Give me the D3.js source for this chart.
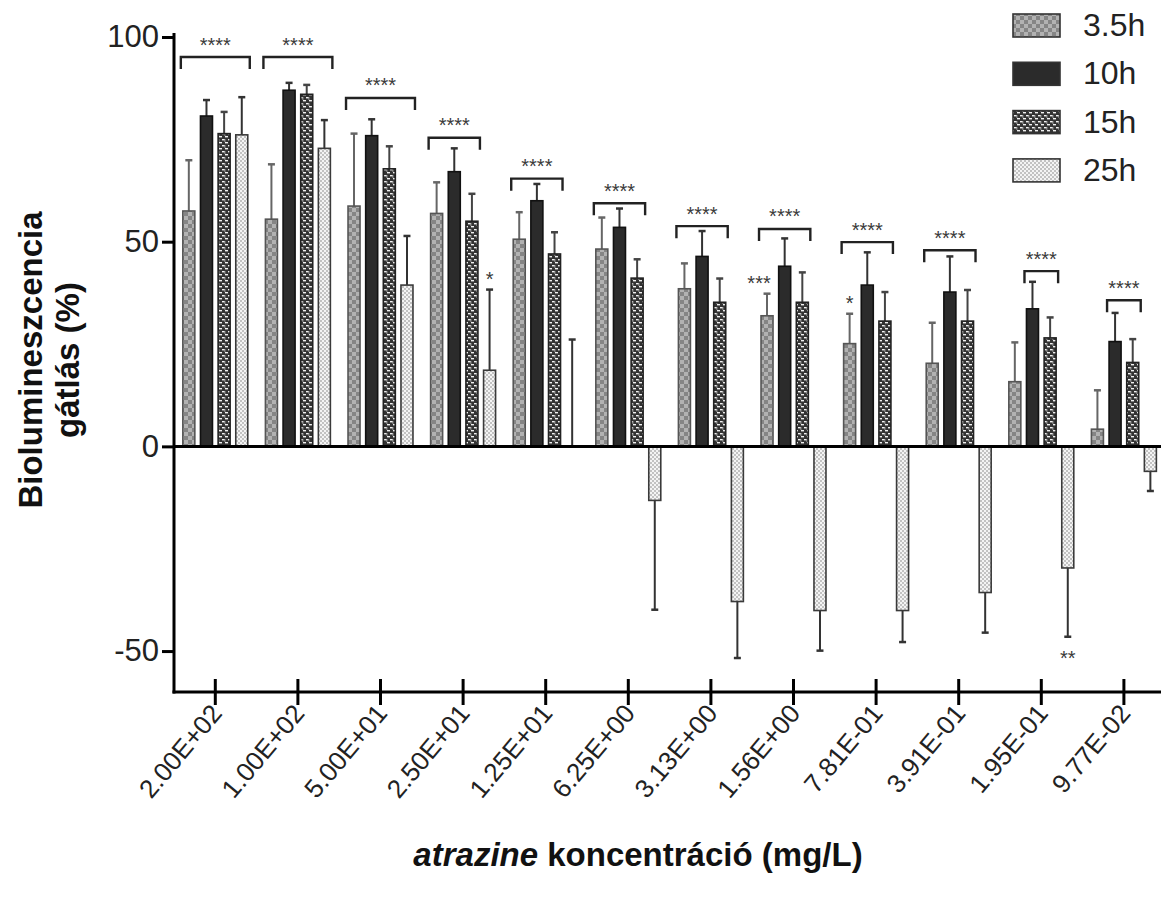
<!DOCTYPE html>
<html><head><meta charset="utf-8">
<script src="https://cdn.jsdelivr.net/npm/d3@7"></script>
<style>
body{margin:0;background:#fff}
svg{display:block}
text{font-family:"Liberation Sans",Arial,Helvetica,sans-serif}
</style>
</head><body>
<svg id="chart" width="1161" height="900"></svg>
<script>
// ---- data ----
const categories = ["2.00E+02","1.00E+02","5.00E+01","2.50E+01","1.25E+01","6.25E+00","3.13E+00","1.56E+00","7.81E-01","3.91E-01","1.95E-01","9.77E-02"];
const seriesNames = ["3.5h","10h","15h","25h"];
const values35 = [57.5, 55.5, 58.7, 56.9, 50.6, 48.2, 38.5, 31.9, 25.1, 20.3, 15.8, 4.2];
const err35    = [12.4, 13.4, 17.7, 7.6, 6.6, 7.7, 6.2, 5.4, 7.3, 9.9, 9.6, 9.5];
const values10 = [80.7, 87.0, 75.9, 67.1, 60.0, 53.5, 46.4, 44.0, 39.4, 37.7, 33.6, 25.6];
const err10    = [3.9, 1.8, 4.0, 5.7, 4.1, 4.6, 6.2, 6.8, 8.0, 8.7, 6.6, 7.0];
const values15 = [76.4, 86.0, 67.8, 55.0, 47.0, 41.1, 35.2, 35.2, 30.6, 30.6, 26.5, 20.5];
const err15    = [5.3, 2.3, 5.5, 6.7, 5.3, 4.6, 5.8, 7.3, 7.1, 7.6, 5.0, 5.7];
const values25 = [76.1, 72.8, 39.4, 18.6, 0.0, -13.2, -37.9, -40.1, -40.1, -35.7, -29.7, -6.1];
const err25    = [9.2, 6.9, 12.0, 19.7, 26.1, 26.7, 13.8, 9.8, 7.7, 9.8, 16.8, 4.8];
// significance brackets per concentration
const sigFrom  = [0,0,0,0,0,0,0,0,0,0,1,1];
const sigTo    = [3,3,3,2,2,2,2,2,2,2,2,2];
const sigLevel = [95.1, 95.1, 85.1, 75.4, 65.4, 59.4, 53.8, 53.1, 49.9, 47.9, 42.8, 35.7];
const sigText  = ["****","****","****","****","****","****","****","****","****","****","****","****"];
// single-bar annotations
const annCategory = ["2.50E+01","1.56E+00","7.81E-01","1.95E-01"];
const annSeries   = ["25h","3.5h","3.5h","25h"];
const annText     = ["*","***","*","**"];
const annShift    = [0, -8, 0, 0];
const yTicks = [-50, 0, 50, 100];
const yLabelLines = ["Biolumineszcencia", "gátlás (%)"];

// ---- scales ----
const svg = d3.select("#chart");
const W = 1161, H = 900;
const x0 = d3.scaleBand().domain(categories).range([174, 174 + 12 * 82.6]);
const x1 = d3.scaleBand().domain(seriesNames).range([0, x0.bandwidth()]).paddingInner(0.32).paddingOuter(0.5);
const y = d3.scaleLinear().domain([-60, 100]).range([692, 37]);

const seriesVals = {"3.5h": values35, "10h": values10, "15h": values15, "25h": values25};
const seriesErr  = {"3.5h": err35, "10h": err10, "15h": err15, "25h": err25};
const fills   = {"3.5h": "url(#p35)", "10h": "#2b2b2b", "15h": "url(#p15)", "25h": "url(#p25)"};
const strokes = {"3.5h": "#555", "10h": "#111", "15h": "#222", "25h": "#3a3a3a"};
const errCol  = {"3.5h": "#666", "10h": "#333", "15h": "#444", "25h": "#333"};

// ---- patterns ----
const defs = svg.append("defs");
const p35 = defs.append("pattern").attr("id","p35").attr("patternUnits","userSpaceOnUse").attr("width",8).attr("height",8);
p35.append("rect").attr("width",8).attr("height",8).attr("fill","#858585");
p35.append("rect").attr("x",0).attr("y",0).attr("width",4).attr("height",4).attr("fill","#b2b2b2");
p35.append("rect").attr("x",4).attr("y",4).attr("width",4).attr("height",4).attr("fill","#b2b2b2");

const p15 = defs.append("pattern").attr("id","p15").attr("patternUnits","userSpaceOnUse").attr("width",6).attr("height",6);
p15.append("rect").attr("width",6).attr("height",6).attr("fill","#333");
p15.append("rect").attr("x",0).attr("y",1).attr("width",3).attr("height",1.4).attr("fill","#f2f2f2");
p15.append("rect").attr("x",3).attr("y",4).attr("width",3).attr("height",1.4).attr("fill","#f2f2f2");
p15.append("rect").attr("x",2.4).attr("y",1).attr("width",1).attr("height",3).attr("fill","#999");

const p25 = defs.append("pattern").attr("id","p25").attr("patternUnits","userSpaceOnUse").attr("width",4).attr("height",4);
p25.append("rect").attr("width",4).attr("height",4).attr("fill","#f4f4f4");
p25.append("rect").attr("x",0).attr("y",0).attr("width",2).attr("height",2).attr("fill","#c2c2c2");
p25.append("rect").attr("x",2).attr("y",2).attr("width",2).attr("height",2).attr("fill","#c2c2c2");

svg.append("rect").attr("width",W).attr("height",H).attr("fill","#fff");

// ---- bars & error bars ----
const barData = [];
seriesNames.forEach(s => categories.forEach((c, i) => {
  barData.push({s, c, v: seriesVals[s][i], e: seriesErr[s][i]});
}));

const gBars = svg.append("g");
const capW = 3.5;
gBars.selectAll("line.err").data(barData).join("line").attr("class","err")
  .attr("x1", d => x0(d.c) + x1(d.s) + x1.bandwidth()/2)
  .attr("x2", d => x0(d.c) + x1(d.s) + x1.bandwidth()/2)
  .attr("y1", d => y(d.v))
  .attr("y2", d => y(d.v >= 0 ? d.v + d.e : d.v - d.e))
  .attr("stroke", d => errCol[d.s]).attr("stroke-width", 2);
gBars.selectAll("line.cap").data(barData).join("line").attr("class","cap")
  .attr("x1", d => x0(d.c) + x1(d.s) + x1.bandwidth()/2 - capW)
  .attr("x2", d => x0(d.c) + x1(d.s) + x1.bandwidth()/2 + capW)
  .attr("y1", d => y(d.v >= 0 ? d.v + d.e : d.v - d.e))
  .attr("y2", d => y(d.v >= 0 ? d.v + d.e : d.v - d.e))
  .attr("stroke", d => errCol[d.s]).attr("stroke-width", 2.5);

gBars.selectAll("rect.bar").data(barData.filter(d => d.v !== 0)).join("rect").attr("class","bar")
  .attr("x", d => x0(d.c) + x1(d.s))
  .attr("width", x1.bandwidth())
  .attr("y", d => y(Math.max(0, d.v)))
  .attr("height", d => Math.abs(y(d.v) - y(0)))
  .attr("fill", d => fills[d.s])
  .attr("stroke", d => strokes[d.s]).attr("stroke-width", 1.6);

// ---- zero line ----
svg.append("line").attr("x1", 174).attr("x2", W).attr("y1", y(0)).attr("y2", y(0))
  .attr("stroke","#000").attr("stroke-width",3);

// ---- significance brackets ----
const gSig = svg.append("g");
categories.forEach((c, i) => {
  const xa = x0(c) + x1(seriesNames[sigFrom[i]]) - 2;
  const xb = x0(c) + x1(seriesNames[sigTo[i]]) + x1.bandwidth() + 2;
  const yy = y(sigLevel[i]);
  gSig.append("path")
    .attr("d", `M${xa},${yy+12}V${yy}H${xb}V${yy+12}`)
    .attr("fill","none").attr("stroke","#222").attr("stroke-width",2.4);
  gSig.append("text").attr("x",(xa+xb)/2).attr("y", yy - 17 + 11.5)
    .attr("text-anchor","middle").attr("font-size",20).attr("fill","#3a3a3a")
    .text(sigText[i]);
});
annCategory.forEach((c, k) => {
  const i = categories.indexOf(c);
  const s = annSeries[k];
  const v = seriesVals[s][i], e = seriesErr[s][i];
  const cx = x0(c) + x1(s) + x1.bandwidth()/2 + annShift[k];
  const end = y(v >= 0 ? v + e : v - e);
  const cy = v >= 0 ? end - 15 : end + 17;
  gSig.append("text").attr("x", cx).attr("y", cy + 11.5)
    .attr("text-anchor","middle").attr("font-size",20).attr("fill","#3a3a3a")
    .text(annText[k]);
});

// ---- axes ----
const yAxis = svg.append("g").attr("transform","translate(174,0)")
  .call(d3.axisLeft(y).tickValues(yTicks).tickSize(12).tickSizeOuter(0).tickPadding(3).tickFormat(d => String(d)));
yAxis.select(".domain").attr("stroke","#000").attr("stroke-width",3).attr("d","M0,33V693.5");
yAxis.selectAll(".tick line").attr("stroke","#000").attr("stroke-width",3);
yAxis.selectAll(".tick text").attr("font-size",31).attr("fill","#222").attr("font-family","'Liberation Sans',Arial,sans-serif");

const xAxis = svg.append("g").attr("transform","translate(0,692)")
  .call(d3.axisBottom(x0).tickSizeInner(13).tickSizeOuter(0));
xAxis.select(".domain").attr("stroke","#000").attr("stroke-width",3).attr("d",`M172.5,0H${W}`);
xAxis.selectAll(".tick line").attr("stroke","#000").attr("stroke-width",3).attr("y1",-13).attr("y2",13);
xAxis.selectAll(".tick text")
  .attr("font-size",26).attr("fill","#222").attr("font-family","'Liberation Sans',Arial,sans-serif")
  .attr("text-anchor","end").attr("x",0).attr("y",0).attr("dy",0)
  .attr("transform","translate(8,22) rotate(-50)");

// ---- axis titles ----
const yl = svg.append("text").attr("transform","translate(0,360) rotate(-90)")
  .attr("text-anchor","middle").attr("font-size",33).attr("font-weight","bold").attr("fill","#111");
yl.append("tspan").attr("x",0).attr("y",42).text(yLabelLines[0]);
yl.append("tspan").attr("x",0).attr("y",79).text(yLabelLines[1]);

const xt = svg.append("text").attr("x", 638).attr("y", 866)
  .attr("text-anchor","middle").attr("font-size",33).attr("font-weight","bold").attr("fill","#111");
xt.append("tspan").attr("font-style","italic").text("atrazine");
xt.append("tspan").text(" koncentráció (mg/L)");

// ---- legend ----
const leg = svg.append("g");
seriesNames.forEach((s, k) => {
  const ly = 14 + k * 48.3;
  leg.append("rect").attr("x",1013).attr("y",ly).attr("width",47).attr("height",23)
    .attr("fill", fills[s]).attr("stroke", "#333").attr("stroke-width",1.6);
  leg.append("text").attr("x",1083).attr("y",ly+22).attr("font-size",32).attr("fill","#222").text(s);
});
</script>
</body></html>
